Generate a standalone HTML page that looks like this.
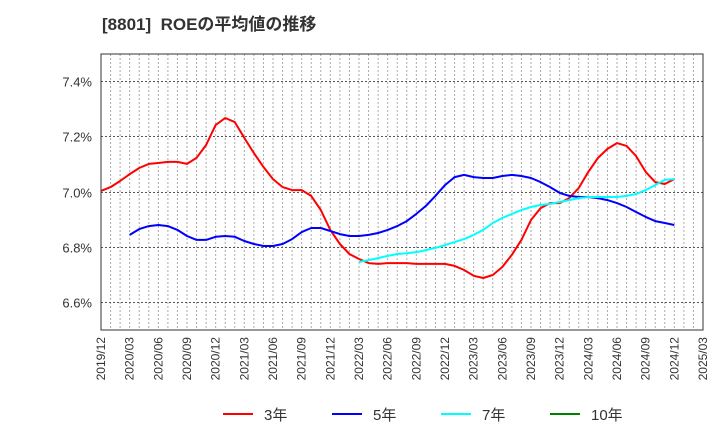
<!DOCTYPE html>
<html><head><meta charset="utf-8"><style>
body{margin:0;background:#fff;}
svg{display:block;font-family:"Liberation Sans","Noto Sans CJK JP",sans-serif;}
</style></head><body>
<svg id="chart" width="720" height="440" viewBox="0 0 720 440">
<text x="102" y="30" font-size="17" font-weight="bold" fill="#333" xml:space="preserve" style="white-space:pre">[8801]  ROEの平均値の推移</text>
<g id="grid"></g>
<g id="series"></g>
<rect x="101" y="54" width="602" height="276" fill="none" stroke="#333" stroke-width="1"/>
<g id="legend"></g>
</svg>
<script>
const yTicks=[6.6,6.8,7.0,7.2,7.4];
const yTickLabels=["6.6%","6.8%","7.0%","7.2%","7.4%"];
const xTickLabels=["2019/12","2020/03","2020/06","2020/09","2020/12","2021/03","2021/06","2021/09","2021/12","2022/03","2022/06","2022/09","2022/12","2023/03","2023/06","2023/09","2023/12","2024/03","2024/06","2024/09","2024/12","2025/03"];
const seriesNames=["3年","5年","7年","10年"];
const seriesColors=["#ff0000","#0000ff","#00ffff","#008000"];
const seriesStart=[0,3,27,0];
const red=[7.002,7.016,7.038,7.063,7.085,7.100,7.103,7.107,7.107,7.100,7.122,7.168,7.241,7.266,7.251,7.194,7.139,7.089,7.045,7.016,7.005,7.005,6.984,6.933,6.861,6.810,6.774,6.756,6.741,6.738,6.741,6.741,6.741,6.738,6.738,6.738,6.738,6.731,6.716,6.695,6.687,6.698,6.727,6.771,6.825,6.897,6.940,6.958,6.958,6.976,7.013,7.071,7.121,7.154,7.175,7.165,7.128,7.071,7.034,7.027,7.045];
const blue=[6.843,6.864,6.875,6.879,6.875,6.861,6.839,6.825,6.825,6.836,6.839,6.836,6.821,6.810,6.803,6.803,6.810,6.828,6.853,6.868,6.868,6.857,6.846,6.839,6.839,6.843,6.850,6.861,6.875,6.893,6.919,6.948,6.984,7.023,7.052,7.060,7.052,7.049,7.049,7.056,7.060,7.056,7.049,7.034,7.016,6.995,6.984,6.980,6.980,6.976,6.969,6.958,6.944,6.926,6.908,6.893,6.886,6.879];
const cyan=[6.745,6.752,6.759,6.767,6.774,6.777,6.781,6.788,6.796,6.806,6.817,6.828,6.843,6.861,6.886,6.904,6.919,6.933,6.944,6.951,6.955,6.962,6.969,6.976,6.980,6.980,6.980,6.980,6.984,6.991,7.005,7.023,7.042,7.045];
const green=[];
const seriesData=[red,blue,cyan,green];

const L=101,R=703,T=54,B=330;
const monthW=(R-L)/63;
const xOf=m=>L+m*monthW;
const yOf=v=>191.5-(v-7.0)*55.3/0.2;
const NS="http://www.w3.org/2000/svg";
function mk(tag,attrs,parent){const e=document.createElementNS(NS,tag);for(const k in attrs)e.setAttribute(k,attrs[k]);parent.appendChild(e);return e;}
const grid=document.getElementById('grid');
for(let m=1;m<63;m++){
  const l=mk('line',{x1:xOf(m),x2:xOf(m),y1:T,y2:B,stroke:'#aaa','stroke-width':1,'stroke-dasharray':'2,2'},grid);
  
  
}
yTicks.forEach((v,i)=>{
  const y=Math.round(yOf(v))+0.5;
  const l=mk('line',{x1:L,x2:R,y1:y,y2:y,stroke:'#555','stroke-width':1,'stroke-dasharray':'2,2'},grid);
  
  
  const t=mk('text',{x:92,y:y+5,'text-anchor':'end','font-size':13,fill:'#333'},grid);
  t.textContent=yTickLabels[i];
  
  
});
xTickLabels.forEach((s,i)=>{
  const x=xOf(i*3);
  const t=mk('text',{x:0,y:0,'text-anchor':'end','font-size':12,fill:'#333',transform:`translate(${x+4},337) rotate(-90)`},grid);
  t.textContent=s;
  
  
});
const sg=document.getElementById('series');
seriesData.forEach((d,si)=>{
  if(!d.length)return;
  const pts=d.map((v,i)=>xOf(seriesStart[si]+i).toFixed(1)+','+yOf(v).toFixed(1)).join(' ');
  const p=mk('polyline',{points:pts,fill:'none',stroke:seriesColors[si],'stroke-width':2,'stroke-linejoin':'round'},sg);
  
  
});
const lg=document.getElementById('legend');
const legX=[223,332,441,550];
seriesNames.forEach((n,i)=>{
  const g=mk('g',{},lg);
  
  
  mk('line',{x1:legX[i],x2:legX[i]+30,y1:414,y2:414,stroke:seriesColors[i],'stroke-width':2},g);
  const t=mk('text',{x:legX[i]+41,y:420,'font-size':15,fill:'#333'},g);
  t.textContent=n;
});
</script>
</body></html>
